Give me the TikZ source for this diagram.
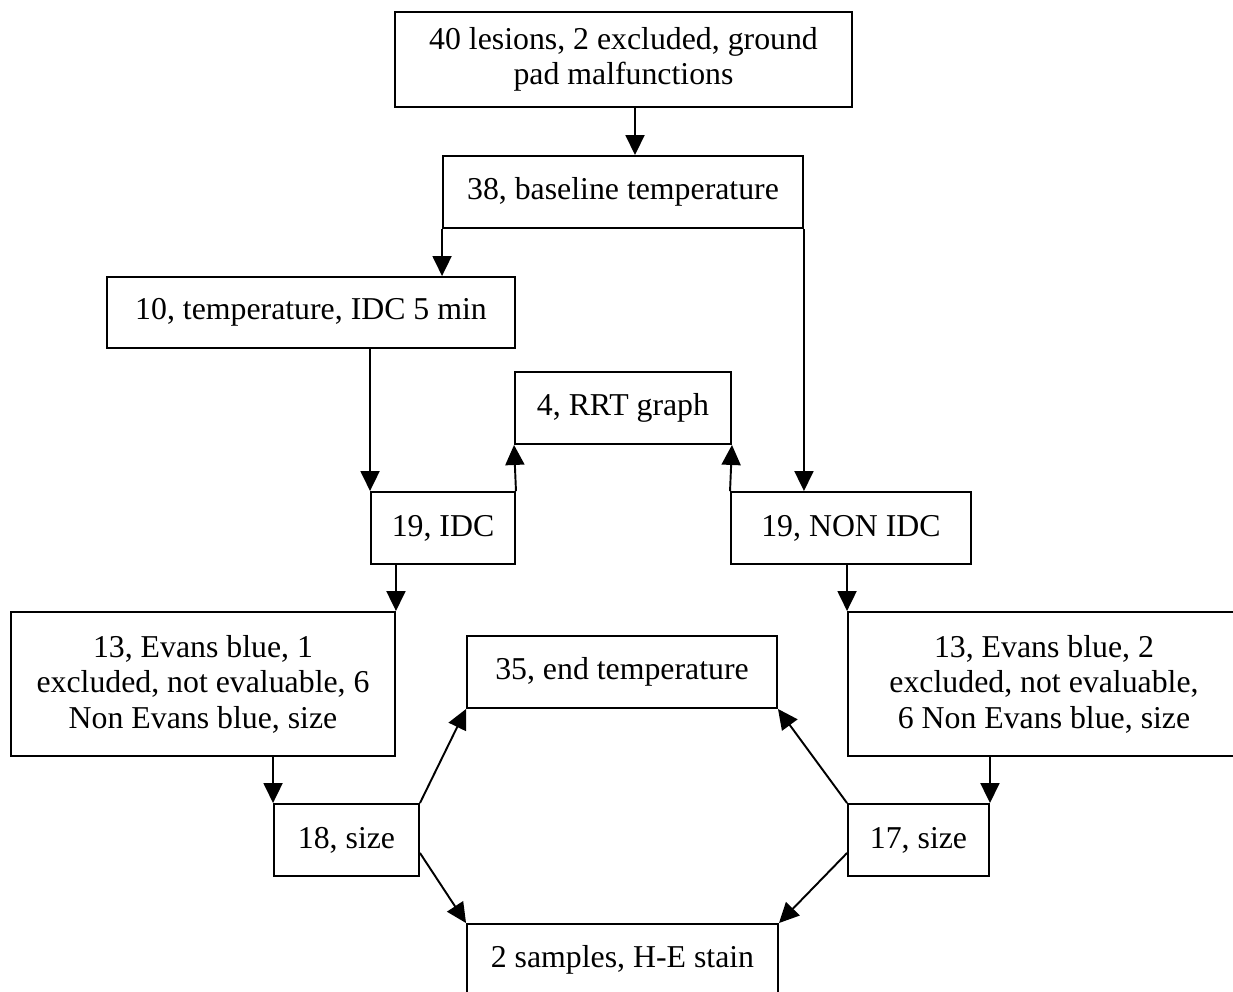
\documentclass[tikz,border=0pt]{standalone}
\usepackage{fontspec}
\setmainfont{Liberation Serif}
\usetikzlibrary{arrows.meta}
\tikzset{
  box/.style={draw, line width=1.1pt, align=center, inner sep=0pt, font=\fontsize{18.1}{20.2}\selectfont},
  flow/.style={-{Triangle[length=0.4cm, width=0.38cm]}, line width=1.1pt},
}

\begin{document}
\begin{tikzpicture}
    \useasboundingbox (0,0) rectangle (24.66,-19.84);
    \node[box, minimum width=9.14cm, minimum height=1.90cm] (lesions) at (12.47,-1.19) {40 lesions, 2 excluded, ground\\pad malfunctions};
    \node[box, minimum width=7.20cm, minimum height=1.44cm] (base) at (12.46,-3.84) {38, baseline temperature};
    \node[box, minimum width=8.16cm, minimum height=1.42cm] (temp) at (6.22,-6.25) {10, temperature, IDC 5 min};
    \node[box, minimum width=4.32cm, minimum height=1.44cm] (rrt) at (12.46,-8.16) {4, RRT graph};
    \node[box, minimum width=2.88cm, minimum height=1.44cm] (idc) at (8.86,-10.56) {19, IDC};
    \node[box, minimum width=4.80cm, minimum height=1.44cm] (nonidc) at (17.02,-10.56) {19, NON IDC};
    \node[box, minimum width=7.68cm, minimum height=2.88cm] (evansA) at (4.06,-13.68) {13, Evans blue, 1\\excluded, not evaluable, 6\\Non Evans blue, size};
    \node[box, minimum width=7.84cm, minimum height=2.88cm] (evansB) at (20.88,-13.68) {13, Evans blue, 2\\excluded, not evaluable,\\6 Non Evans blue, size};
    \node[box, minimum width=6.20cm, minimum height=1.44cm] (endtemp) at (12.44,-13.44) {35, end temperature};
    \node[box, minimum width=2.90cm, minimum height=1.44cm] (sizeA) at (6.93,-16.80) {18, size};
    \node[box, minimum width=2.82cm, minimum height=1.44cm] (sizeB) at (18.37,-16.80) {17, size};
    \node[box, minimum width=6.22cm, minimum height=1.44cm] (stain) at (12.45,-19.20) {2 samples, H-E stain};
    \draw[flow] ([xshift=0.23cm]lesions.south) -- ([xshift=0.23cm]lesions.south |- base.north);
    \draw[flow] (base.south west) -- (base.south west |- temp.north);
    \draw[flow] (base.south east) -- (base.south east |- nonidc.north);
    \draw[flow] (idc.north west |- temp.south) -- (idc.north west);
    \draw[flow] (idc.north east) -- (rrt.south west);
    \draw[flow] (nonidc.north west) -- (rrt.south east);
    \draw[flow] (evansA.north east |- idc.south) -- (evansA.north east);
    \draw[flow] (evansB.north west |- nonidc.south) -- (evansB.north west);
    \draw[flow] (sizeA.north west |- evansA.south) -- (sizeA.north west);
    \draw[flow] (sizeB.north east |- evansB.south) -- (sizeB.north east);
    \draw[flow] (sizeA.north east) -- (endtemp.south west);
    \draw[flow] ([yshift=-0.26cm]sizeA.east) -- (stain.north west);
    \draw[flow] (sizeB.north west) -- (endtemp.south east);
    \draw[flow] ([yshift=-0.26cm]sizeB.west) -- (stain.north east);
  \end{tikzpicture}
\end{document}
